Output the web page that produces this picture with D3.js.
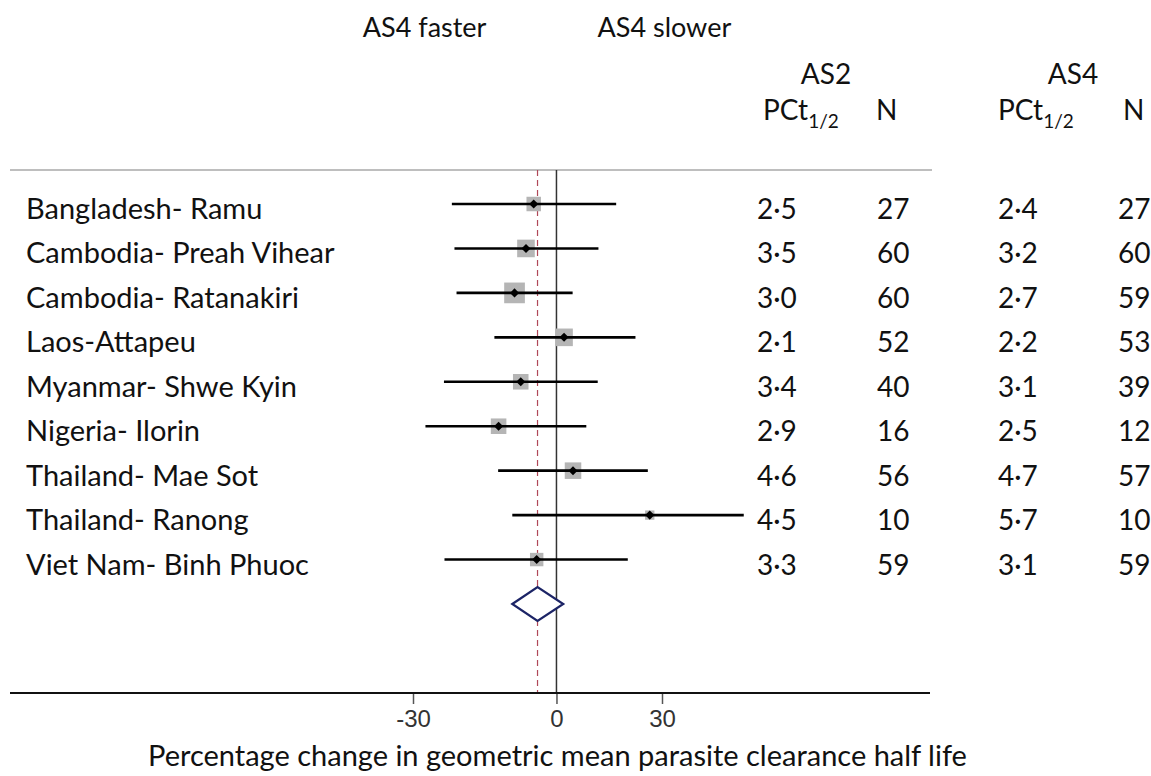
<!DOCTYPE html>
<html>
<head>
<meta charset="utf-8">
<script src="https://cdn.jsdelivr.net/npm/d3@7"></script>
<style>
  body { margin: 0; background: #fff; }
  svg text { font-family: Lato, "Open Sans", sans-serif; fill: #111; }
  .tick text { font-family: "Liberation Sans Narrow", "Arial Narrow", "Liberation Sans", sans-serif; fill: #333; }
</style>
</head>
<body>
<svg id="forest" width="1151" height="776"></svg>
<script>
// study sites, top to bottom
var sites = ["Bangladesh- Ramu", "Cambodia- Preah Vihear", "Cambodia- Ratanakiri",
    "Laos-Attapeu", "Myanmar- Shwe Kyin", "Nigeria- Ilorin", "Thailand- Mae Sot",
    "Thailand- Ranong", "Viet Nam- Binh Phuoc"];

// % change in geometric mean PC t1/2 (AS4 vs AS2) with 95% CI
var estimate = [-5.5, -7.3, -9.9, 1.9, -8.5, -13.4, 4.2, 26.1, -4.8];
var lower    = [-22.9, -22.4, -22.0, -14.3, -24.4, -27.8, -13.5, -10.4, -24.3];
var upper    = [16.0, 11.0, 4.1, 21.7, 10.8, 7.7, 25.5, 59.3, 19.4];
var weight   = [9.2, 13.6, 18.8, 13.6, 10.6, 10.6, 12.0, 3.8, 7.9];

// pooled: lower, estimate, upper
var pooled = [-10.4, -4.6, 1.7];

var as2PCt = [2.5, 3.5, 3.0, 2.1, 3.4, 2.9, 4.6, 4.5, 3.3];
var as2N   = [27, 60, 60, 52, 40, 16, 56, 10, 59];
var as4PCt = [2.4, 3.2, 2.7, 2.2, 3.1, 2.5, 4.7, 5.7, 3.1];
var as4N   = [27, 60, 59, 53, 39, 12, 57, 10, 59];

var tickValues = [-30, 0, 30];

function draw() {
    var svg = d3.select("#forest");

    // log-ratio scale, labelled in percent change
    var ratio = function(p) { return 1 + p / 100; };
    var x = d3.scaleLog().domain([0.7, 1.3]).range([413, 662]);
    var y = d3.scalePoint().domain(d3.range(sites.length + 1)).range([204, 604]);
    var box = d3.scaleSqrt().domain([0, d3.max(weight)]).range([0, 20.7]);

    var top = 170, bottom = 693;
    var dot = d3.format(".1f");
    var midDot = function(v) { return dot(v).replace(".", "\u00b7"); };

    // header
    svg.append("text").attr("x", x(1) - 70).attr("y", 37)
        .attr("text-anchor", "end").style("font-size", "27px").text("AS4 faster");
    svg.append("text").attr("x", x(1) + 41).attr("y", 37)
        .attr("text-anchor", "start").style("font-size", "27px").text("AS4 slower");

    var cols = [757, 877, 998, 1118];
    svg.append("text").attr("x", 826).attr("y", 84).attr("text-anchor", "middle")
        .style("font-size", "28px").text("AS2");
    svg.append("text").attr("x", 1073).attr("y", 84).attr("text-anchor", "middle")
        .style("font-size", "28px").text("AS4");

    [763, 998].forEach(function(cx) {
        var t = svg.append("text").attr("x", cx).attr("y", 120).style("font-size", "28px");
        t.append("tspan").text("PCt");
        t.append("tspan").attr("dy", 8).style("font-size", "19px").text("1/2");
    });
    [876, 1123].forEach(function(cx) {
        svg.append("text").attr("x", cx).attr("y", 120).style("font-size", "28px").text("N");
    });

    svg.append("line")
        .attr("x1", 10).attr("x2", 932).attr("y1", top).attr("y2", top)
        .attr("stroke", "#a8a8a8").attr("stroke-width", 1.5);

    // reference lines
    svg.append("line")
        .attr("x1", x(1)).attr("x2", x(1)).attr("y1", top).attr("y2", bottom)
        .attr("stroke", "#333").attr("stroke-width", 1.5);
    svg.append("line")
        .attr("x1", x(ratio(pooled[1]))).attr("x2", x(ratio(pooled[1])))
        .attr("y1", top).attr("y2", bottom)
        .attr("stroke", "#b04858").attr("stroke-width", 1.2)
        .attr("stroke-dasharray", "6,4");

    var rows = svg.selectAll(".row")
        .data(sites)
        .enter().append("g")
        .attr("class", "row")
        .attr("transform", function(d, i) { return "translate(0," + y(i) + ")"; });

    rows.append("rect")
        .attr("x", function(d, i) { return x(ratio(estimate[i])) - box(weight[i]) / 2; })
        .attr("y", function(d, i) { return -box(weight[i]) / 2; })
        .attr("width", function(d, i) { return box(weight[i]); })
        .attr("height", function(d, i) { return box(weight[i]); })
        .attr("fill", "#b5b5b5");

    rows.append("line")
        .attr("x1", function(d, i) { return x(ratio(lower[i])); })
        .attr("x2", function(d, i) { return x(ratio(upper[i])); })
        .attr("stroke", "#000").attr("stroke-width", 2.6);

    rows.append("path")
        .attr("d", d3.symbol().type(d3.symbolDiamond2).size(52))
        .attr("transform", function(d, i) { return "translate(" + x(ratio(estimate[i])) + ",0)"; })
        .attr("fill", "#000");

    rows.append("text")
        .attr("x", 26).attr("y", 15)
        .style("font-size", "29px")
        .text(function(d) { return d; });

    var cells = [as2PCt, as2N, as4PCt, as4N];
    cells.forEach(function(arr, c) {
        rows.append("text")
            .attr("x", cols[c]).attr("y", 15)
            .style("font-size", "28px")
            .text(function(d, i) { return c % 2 === 0 ? midDot(arr[i]) : arr[i]; });
    });

    // pooled diamond
    var py = y(sites.length);
    var dia = [[x(ratio(pooled[0])), py], [x(ratio(pooled[1])), py - 17],
               [x(ratio(pooled[2])), py], [x(ratio(pooled[1])), py + 17]];
    svg.append("path")
        .attr("d", d3.line()(dia) + "Z")
        .attr("fill", "#fff").attr("stroke", "#1c2466").attr("stroke-width", 2.2);

    // x axis
    var axis = svg.append("g")
        .attr("transform", "translate(0," + bottom + ")")
        .call(d3.axisBottom(x)
            .tickValues(tickValues.map(ratio))
            .tickSize(11).tickPadding(6)
            .tickFormat(function(d) { return Math.round((d - 1) * 100); }));
    axis.select(".domain").remove();
    axis.selectAll(".tick line").attr("stroke", "#555").attr("stroke-width", 1.5);
    axis.selectAll(".tick text").style("font-size", "24px");

    svg.append("line")
        .attr("x1", 10).attr("x2", 930).attr("y1", bottom).attr("y2", bottom)
        .attr("stroke", "#111").attr("stroke-width", 2);

    svg.append("text")
        .attr("x", 148).attr("y", 766)
        .attr("text-anchor", "start")
        .style("font-size", "29px")
        .text("Percentage change in geometric mean parasite clearance half life");
}

draw();
</script>
</body>
</html>
